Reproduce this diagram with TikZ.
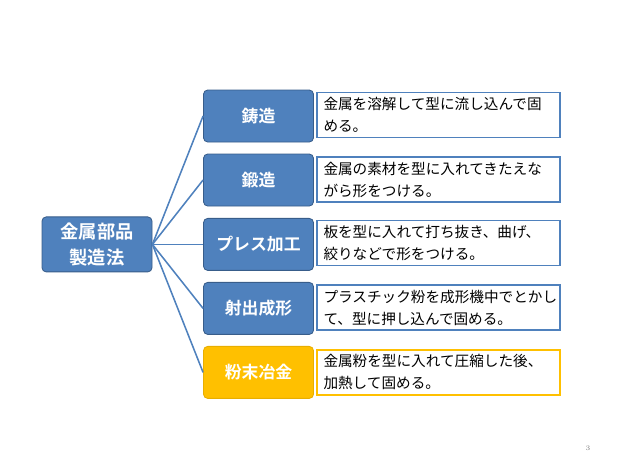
\documentclass[tikz,border=0pt]{standalone}
\usepackage{fontspec}
\newfontfamily\jp{Noto Sans CJK JP}
\newfontfamily\jpb{Noto Sans CJK JP Bold}
\usepackage{tikz}
\usetikzlibrary{positioning,calc}

\definecolor{ofblue}{HTML}{4F81BD}
\definecolor{ofblueline}{HTML}{385D8A}
\definecolor{ofgold}{HTML}{FFC000}
\definecolor{ofgoldline}{HTML}{E8AE00}

\begin{document}
\begin{tikzpicture}[
  root/.style={draw=ofblueline, fill=ofblue, rounded corners=3pt, line width=0.6pt, minimum width=2.75cm, minimum height=1.375cm, align=center, text=white, font=\jpb\fontsize{13}{19}\selectfont},
  method/.style={draw=ofblueline, fill=ofblue, rounded corners=3pt, line width=0.6pt, minimum width=2.75cm, minimum height=1.3cm, align=center, text=white, font=\jpb\fontsize{12}{16}\selectfont},
  desc/.style={draw=ofblue, fill=white, line width=1pt, minimum width=6.075cm, minimum height=1.125cm, text width=5.75cm, align=left, inner sep=0pt, font=\jp\fontsize{10.4}{15.6}\selectfont},
  link/.style={draw=ofblue, line width=1.1pt}
]
  \useasboundingbox (0,0) rectangle (15.75,-11.825);

  \node[root] (root) at (2.425,-6.11) {金属部品\\製造法};

  \node[method] (cast) at (6.4625,-2.9) {鋳造};
  \node[method] (forge) at (6.4625,-4.5) {鍛造};
  \node[method] (press) at (6.4625,-6.11) {プレス加工};
  \node[method] (mold) at (6.4625,-7.71) {射出成形};
  \node[method, fill=ofgold, draw=ofgoldline] (powder) at (6.4625,-9.31) {粉末冶金};

  \node[desc] (dcast) at (10.9625,-2.88) {金属を溶解して型に流し込んで固\\める。};
  \node[desc] (dforge) at (10.9625,-4.49) {金属の素材を型に入れてきたえな\\がら形をつける。};
  \node[desc] (dpress) at (10.9625,-6.07) {板を型に入れて打ち抜き、曲げ、\\絞りなどで形をつける。};
  \node[desc] (dmold) at (10.9625,-7.69) {プラスチック粉を成形機中でとかし\\て、型に押し込んで固める。};
  \node[desc, draw=ofgold] (dpowder) at (10.9625,-9.31) {金属粉を型に入れて圧縮した後、\\加熱して固める。};

  \foreach \m in {cast,forge,press,mold,powder}
    \draw[link] (root.east) -- (\m.west);

  \node[text=gray, font=\fontsize{5}{6}\selectfont] (page) at (14.7,-11.2) {3};
\end{tikzpicture}
\end{document}
